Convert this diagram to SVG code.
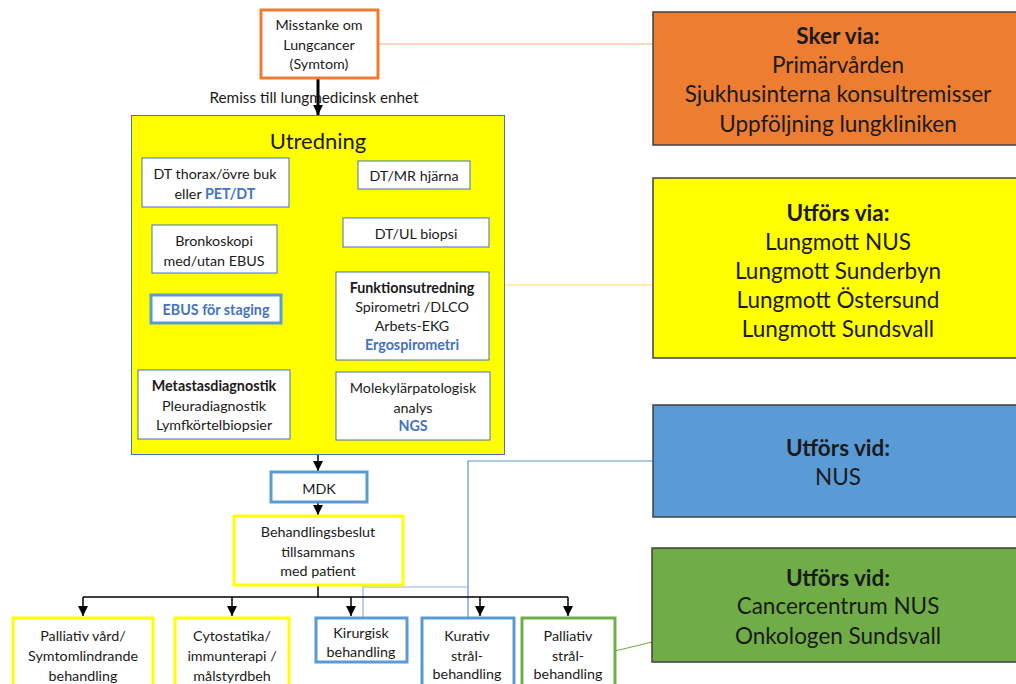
<svg xmlns="http://www.w3.org/2000/svg" width="1016" height="684" viewBox="0 0 1016 684">
<defs>
<marker id="ah" markerUnits="userSpaceOnUse" markerWidth="10" markerHeight="10" viewBox="0 0 10 10" refX="10" refY="5" orient="auto">
<path d="M0,0 L10,5 L0,10 z" fill="#000"/>
</marker>
</defs>
<style>
text{font-family:Lato,"Liberation Sans",sans-serif;fill:#1a1a1a;text-anchor:middle;dominant-baseline:central}
.t{font-size:14.3px}
.b{font-weight:bold}
.bl{fill:#4472C4;font-weight:bold}
.big{font-size:22.5px}
.inner{fill:#fff;stroke:#4472C4;stroke-width:1}
.blueN{fill:#fff;stroke:#5B9BD5;stroke-width:3}
.yelN{fill:#fff;stroke:#FFFF00;stroke-width:3}
.grnN{fill:#fff;stroke:#70AD47;stroke-width:3}
.side{stroke:#404040;stroke-width:1.5}
.conn{stroke:#000;stroke-width:1.5;fill:none}
</style>
<rect width="1016" height="684" fill="#fff"/>

<g id="connectors">
<line x1="378" y1="44" x2="653" y2="44" stroke="#F4B183" stroke-width="1.2"/>
<line x1="505" y1="285" x2="652" y2="285" stroke="#FFE060" stroke-width="1.2"/>
<polyline points="652,461 468,461 468,617" fill="none" stroke="#5B8FD5" stroke-width="1.2"/>
<polyline points="363,617 363,587 468,587" fill="none" stroke="#8FB0E0" stroke-width="1.2"/>
<line x1="615" y1="651" x2="652" y2="642" stroke="#70AD47" stroke-width="1.2"/>
<line x1="318" y1="79" x2="318" y2="115" stroke="#000" stroke-width="3" marker-end="url(#ah)"/>
<line x1="318" y1="455" x2="318" y2="471" class="conn" stroke-width="2.5" marker-end="url(#ah)"/>
<line x1="318" y1="503" x2="318" y2="515" class="conn" stroke-width="2.5" marker-end="url(#ah)"/>
<line x1="318" y1="585" x2="318" y2="597" class="conn"/>
<line x1="83" y1="597" x2="568" y2="597" class="conn"/>
<line x1="83" y1="597" x2="83" y2="616" class="conn" stroke-width="2" marker-end="url(#ah)"/>
<line x1="232" y1="597" x2="232" y2="616" class="conn" stroke-width="2" marker-end="url(#ah)"/>
<line x1="351" y1="597" x2="351" y2="616" class="conn" stroke-width="2" marker-end="url(#ah)"/>
<line x1="480" y1="597" x2="480" y2="616" class="conn" stroke-width="2" marker-end="url(#ah)"/>
<line x1="568" y1="597" x2="568" y2="616" class="conn" stroke-width="2" marker-end="url(#ah)"/>
<text x="314" y="97" style="font-size:15.3px">Remiss till lungmedicinsk enhet</text>
</g>

<g id="misstanke">
<rect x="261" y="10" width="117" height="68" fill="#fff" stroke="#ED7D31" stroke-width="3"/>
<text x="319" y="24" class="t">Misstanke om</text>
<text x="319" y="44" class="t">Lungcancer</text>
<text x="319" y="63" class="t">(Symtom)</text>
</g>

<g id="utredning">
<rect x="131.5" y="115.5" width="373" height="339" fill="#FFFF00" stroke="#4472C4" stroke-width="1"/>
<text x="318" y="140" style="font-size:22px">Utredning</text>
</g>

<g id="dt-thorax">
<rect x="142" y="158" width="147" height="49" class="inner"/>
<text x="215" y="173" class="t">DT thorax/övre buk</text>
<text x="215" y="193" class="t">eller <tspan class="bl">PET/DT</tspan></text>
</g>

<g id="dt-mr">
<rect x="358" y="161" width="112" height="28" class="inner"/>
<text x="414" y="175" class="t">DT/MR hjärna</text>
</g>

<g id="bronkoskopi">
<rect x="152" y="225" width="125" height="48" class="inner"/>
<text x="214" y="240" class="t">Bronkoskopi</text>
<text x="214" y="260" class="t">med/utan EBUS</text>
</g>

<g id="dt-ul">
<rect x="343" y="218" width="146" height="29" class="inner"/>
<text x="416" y="233" class="t">DT/UL biopsi</text>
</g>

<g id="ebus">
<rect x="151" y="295" width="130" height="28" fill="#fff" stroke="#5B9BD5" stroke-width="3"/>
<text x="216" y="309" class="t bl">EBUS för staging</text>
</g>

<g id="funktion">
<rect x="336" y="272" width="153" height="88" class="inner"/>
<text x="412" y="287" class="t b">Funktionsutredning</text>
<text x="412" y="306" class="t">Spirometri /DLCO</text>
<text x="412" y="325" class="t">Arbets-EKG</text>
<text x="412" y="344" class="t bl">Ergospirometri</text>
</g>

<g id="metastas">
<rect x="138" y="370" width="152" height="69" class="inner"/>
<text x="214" y="385" class="t b">Metastasdiagnostik</text>
<text x="214" y="405" class="t">Pleuradiagnostik</text>
<text x="214" y="424" class="t">Lymfkörtelbiopsier</text>
</g>

<g id="molekylar">
<rect x="336" y="372" width="154" height="68" class="inner"/>
<text x="413" y="387" class="t">Molekylärpatologisk</text>
<text x="413" y="407" class="t">analys</text>
<text x="413" y="425" class="t bl">NGS</text>
</g>

<g id="mdk">
<rect x="271" y="472" width="96" height="30" class="blueN"/>
<text x="319" y="488" class="t">MDK</text>
</g>

<g id="beslut">
<rect x="234" y="516" width="169" height="69" class="yelN"/>
<text x="318" y="531" class="t">Behandlingsbeslut</text>
<text x="318" y="551" class="t">tillsammans</text>
<text x="318" y="570" class="t">med patient</text>
</g>

<g id="palliativ-vard">
<rect x="13" y="618" width="140" height="80" class="yelN"/>
<text x="83" y="635" class="t">Palliativ vård/</text>
<text x="83" y="655" class="t">Symtomlindrande</text>
<text x="83" y="675" class="t">behandling</text>
</g>

<g id="cytostatika">
<rect x="175" y="618" width="114" height="80" class="yelN"/>
<text x="232" y="635" class="t">Cytostatika/</text>
<text x="232" y="655" class="t">immunterapi /</text>
<text x="232" y="675" class="t">målstyrdbeh</text>
</g>

<g id="kirurgisk">
<rect x="316" y="618" width="91" height="44" class="blueN"/>
<text x="361" y="632" class="t">Kirurgisk</text>
<text x="361" y="651" class="t">behandling</text>
</g>

<g id="kurativ">
<rect x="422" y="618" width="92" height="80" class="blueN"/>
<text x="467" y="635" class="t">Kurativ</text>
<text x="467" y="655" class="t">strål-</text>
<text x="467" y="673" class="t">behandling</text>
</g>

<g id="palliativ-stral">
<rect x="522" y="618" width="93" height="80" class="grnN"/>
<text x="568" y="635" class="t">Palliativ</text>
<text x="568" y="655" class="t">strål-</text>
<text x="568" y="673" class="t">behandling</text>
</g>

<g id="sker-via">
<rect x="653" y="12" width="380" height="133" fill="#ED7D31" class="side"/>
<text x="838" y="35" class="big b">Sker via:</text>
<text x="838" y="64" class="big">Primärvården</text>
<text x="838" y="93" class="big">Sjukhusinterna konsultremisser</text>
<text x="838" y="123" class="big">Uppföljning lungkliniken</text>
</g>

<g id="utfors-via">
<rect x="653" y="178" width="380" height="180" fill="#FFFF00" class="side"/>
<text x="838" y="212" class="big b">Utförs via:</text>
<text x="838" y="241" class="big">Lungmott NUS</text>
<text x="838" y="270" class="big">Lungmott Sunderbyn</text>
<text x="838" y="299" class="big">Lungmott Östersund</text>
<text x="838" y="328" class="big">Lungmott Sundsvall</text>
</g>

<g id="utfors-vid-nus">
<rect x="653" y="405" width="380" height="112" fill="#5B9BD5" class="side"/>
<text x="838" y="447" class="big b">Utförs vid:</text>
<text x="838" y="476" class="big">NUS</text>
</g>

<g id="utfors-vid-cc">
<rect x="652" y="548" width="380" height="114" fill="#70AD47" class="side"/>
<text x="838" y="577" class="big b">Utförs vid:</text>
<text x="838" y="605" class="big">Cancercentrum NUS</text>
<text x="838" y="635" class="big">Onkologen Sundsvall</text>
</g>
</svg>
